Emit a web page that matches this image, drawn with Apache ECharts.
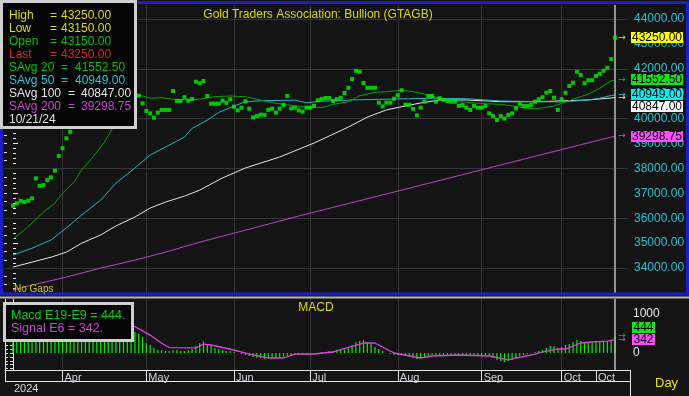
<!DOCTYPE html>
<html>
<head>
<meta charset="utf-8">
<script src="https://cdn.jsdelivr.net/npm/echarts@6.0.0/dist/echarts.min.js"></script>
<style>
html,body{margin:0;padding:0;background:#151515;overflow:hidden;}
#chart{width:689px;height:396px;}
</style>
</head>
<body>
<div id="chart"></div>
<script>
// ================= DATA =================
const chartTitle = 'Gold Traders Association: Bullion (GTAGB)';
const firstDay = '2024-03-13';
const lastDay = '2024-10-21';

// daily closes (one per weekday, Mar 13 .. Oct 21, 2024)
const prices = [
  36500,36600,36700,36650,36700,36800,37600,37300,37330,37530,
  37640,37910,38500,38810,39210,39470,39900,40300,40800,41000,
  41300,41100,41500,41700,41400,41200,41600,41800,41500,41300,
  41500,41400,41100,40920,40610,40310,40210,40040,40240,40350,
  40350,40350,41110,40710,40710,40860,40720,40790,41480,41420,
  41510,40910,40600,40600,40600,40720,40640,40780,40480,40330,
  40440,40700,40400,40050,40100,40160,40150,40350,40400,40240,
  40400,40550,40910,40410,40440,40330,40280,40440,40440,40510,
  40740,40790,40830,40830,40710,40780,40840,41030,41240,41590,
  41920,41880,41430,41240,41240,41240,40640,40490,40640,40640,
  40800,40940,41140,40560,40560,40390,40130,40440,40680,40910,
  40910,40680,40820,40750,40700,40680,40680,40510,40550,40440,
  40350,40510,40440,40440,40510,40210,40100,39940,40100,40000,
  40150,40210,40410,40610,40510,40510,40550,40680,40780,40860,
  41040,41110,40840,40350,40780,41040,41310,41440,41880,41750,
  41420,41540,41540,41710,41800,41920,42040,42390,43250
];

// moving averages: [day index, value]
const sma20Knots = [[0,35170],[3,35530],[5,35810],[8,36250],[11,36610],[13,37010],[16,37450],[18,37940],[21,38460],[24,39060],[26,39580],[29,40300],[33,40950],[36,40820],[39,40840],[42,40780],[46,40750],[49,40780],[53,40880],[57,40910],[61,40880],[64,40780],[68,40640],[72,40550],[76,40480],[81,40440],[84,40570],[88,40680],[91,40920],[95,41060],[98,41080],[102,41140],[105,41080],[109,40950],[113,40780],[117,40680],[123,40610],[128,40570],[131,40510],[135,40410],[138,40410],[142,40510],[144,40610],[147,40780],[151,40980],[154,41220],[157,41520],[158,41552.5]];
const sma50Knots = [[0,34520],[5,34800],[10,35130],[14,35610],[18,36130],[23,36730],[27,37410],[32,38020],[36,38540],[40,38860],[45,39260],[47,39610],[51,39940],[54,40250],[58,40510],[61,40670],[65,40720],[74,40740],[77,40640],[81,40700],[89,40750],[98,40780],[110,40820],[119,40800],[128,40710],[138,40680],[144,40670],[151,40750],[154,40820],[157,40930],[158,40949]];
const sma100Knots = [[0,34040],[5,34240],[10,34440],[14,34640],[18,35000],[23,35330],[27,35690],[32,36050],[36,36410],[40,36650],[45,36890],[49,37130],[55,37620],[61,38020],[70,38460],[79,39020],[88,39660],[93,40060],[98,40350],[103,40510],[107,40630],[112,40750],[119,40750],[128,40680],[138,40680],[145,40720],[151,40750],[154,40790],[157,40830],[158,40847]];
const sma200Knots = [[0,33120],[5,33320],[14,33640],[23,34000],[32,34320],[40,34640],[49,35040],[75,36090],[102,37130],[128,38140],[158,39298.75]];

// MACD histogram (one per day) and signal line knots
const macdValues = [
  620,640,660,650,660,680,780,760,760,780,
  800,840,920,980,1020,1050,1060,1070,1060,1050,
  1030,1000,980,950,920,880,840,790,740,690,
  640,590,538,486,410,256,205,128,77,77,
  51,51,77,77,51,51,77,102,180,256,
  295,230,180,128,102,77,51,51,26,0,
  -26,-51,-77,-102,-128,-128,-154,-128,-128,-128,
  -128,-102,-77,-77,-51,-51,-51,-51,-26,-26,
  0,26,26,51,51,77,102,128,154,205,
  282,307,333,282,230,154,102,51,0,-26,
  -51,-51,-51,-77,-102,-128,-154,-128,-102,-77,
  -51,-51,-60,-60,-60,-60,-60,-60,-60,-60,
  -60,-60,-60,-60,-60,-77,-128,-179,-205,-230,
  -205,-179,-128,-77,-51,-26,0,26,51,77,
  128,180,180,128,154,205,230,282,333,307,
  282,282,282,282,282,282,307,333,444
];
const signalKnots = [[0,600],[10,720],[18,950],[25,960],[31,730],[36,460],[39,250],[41,140],[48,130],[50,230],[52,205],[58,77],[62,-26],[67,-128],[71,-128],[74,-26],[79,-26],[84,26],[92,256],[95,256],[100,0],[107,-128],[110,-77],[117,-51],[125,-77],[130,-179],[132,-128],[137,-26],[139,26],[143,102],[145,102],[149,256],[152,282],[156,307],[158,342]];

const monthTicks = [['2024-04-01','Apr'],['2024-05-01','May'],['2024-06-03','Jun'],['2024-07-01','Jul'],['2024-08-01','Aug'],['2024-09-02','Sep'],['2024-10-01','Oct'],['2024-10-14','Oct']];
const priceTickLabels = [34000,35000,36000,37000,38000,39000,40000,41000,42000,43000,44000];
const priceGridValues = [34000,36000,38000,40000,42000,44000];
const macdTickLabels = [0,1000];
const macdTickMarks = [-400,-300,-200,-100,0,100,200,300,400,500,600,700,800,900,1000,1100,1200,1300];

const highValue = 43250.00;
const lowValue = 43150.00;
const openValue = 43150.00;
const lastValue = 43250.00;
const sma20Last = 41552.50;
const sma50Last = 40949.00;
const sma100Last = 40847.00;
const sma200Last = 39298.75;
const lastDateLabel = '10/21/24';
const macdLast = 444;
const signalLast = 342;
const yearLabel = '2024';

// ================= CHART =================
function tradingDays(from, to) {
  const out = [];
  const d = new Date(from + 'T00:00:00Z'), end = new Date(to + 'T00:00:00Z');
  while (d <= end) {
    const wd = d.getUTCDay();
    if (wd !== 0 && wd !== 6) out.push(d.toISOString().slice(0, 10));
    d.setUTCDate(d.getUTCDate() + 1);
  }
  return out;
}
const categories = tradingDays(firstDay, lastDay);
const lastIdx = categories.length - 1;
const monthIdx = monthTicks.map(m => categories.indexOf(m[0]));
const gridMonthIdx = monthIdx.slice(0, 7);
const monthLabel = v => { const k = monthIdx.indexOf(v); return k >= 0 ? monthTicks[k][1] : ''; };

const FONT = '"Liberation Sans", Arial, sans-serif';
const BG = '#141414', GRID = '#363636';
const C = {yellow:'#dede00', green:'#00c400', red:'#e02424', cyan:'#22c6d8', white:'#e4e4e4', magenta:'#c848d0'};

const chart = echarts.init(document.getElementById('chart'), null, {renderer: 'canvas'});

const option = {
  backgroundColor: BG,
  animation: false,
  grid: [
    {left: 4, right: 61, top: 5, height: 288},
    {left: 5, right: 59, top: 299, height: 71}
  ],
  xAxis: [
    {gridIndex: 0, type: 'value', min: -2.37, max: 161.41, show: false},
    {gridIndex: 1, type: 'value', min: -2.1, max: 161.94,
      axisLine: {show: true, onZero: false, lineStyle: {color: '#e8e8e8', width: 1}},
      axisTick: {show: true, customValues: monthIdx, length: 11, lineStyle: {color: '#e8e8e8'}},
      axisLabel: {customValues: monthIdx, formatter: monthLabel, align: 'left', margin: 2,
        padding: [0, 0, 0, 2], color: '#cfd3e0', fontSize: 11, fontFamily: FONT},
      splitLine: {show: false}}
  ],
  yAxis: [
    {gridIndex: 0, type: 'value', position: 'right', min: 33000, max: 44562, interval: 1000,
      axisLine: {show: false},
      axisTick: {show: true, length: 5, lineStyle: {color: '#eeeeee'}},
      minorTick: {show: true, splitNumber: 5, length: 3, lineStyle: {color: '#eeeeee'}},
      axisLabel: {color: C.cyan, fontSize: 12, fontFamily: FONT, margin: 6,
        formatter: v => priceTickLabels.includes(v) ? v.toFixed(2) : ''},
      splitLine: {show: false}},
    {gridIndex: 0, type: 'value', position: 'left', min: 33000, max: 44562, interval: 1000,
      axisLine: {show: false},
      axisTick: {show: true, inside: true, length: 3, lineStyle: {color: '#dddddd'}},
      minorTick: {show: true, splitNumber: 3, length: 3, lineStyle: {color: '#dddddd'}},
      axisLabel: {show: false}, splitLine: {show: false}},
    {gridIndex: 1, type: 'value', position: 'right', min: -436, max: 1385,
      axisLine: {show: true, lineStyle: {color: '#e8e8e8'}},
      axisTick: {show: true, inside: true, length: 3, customValues: macdTickMarks, lineStyle: {color: '#dddddd'}},
      axisLabel: {customValues: macdTickLabels, color: '#e8e8e8', fontSize: 12, fontFamily: FONT, margin: 3,
        formatter: v => String(v)},
      splitLine: {show: false}},
    {gridIndex: 1, type: 'value', position: 'left', min: -436, max: 1385,
      axisLine: {show: true, lineStyle: {color: '#e8e8e8'}},
      axisTick: {show: true, inside: true, length: 3, customValues: macdTickMarks, lineStyle: {color: '#dddddd'}},
      axisLabel: {show: false}, splitLine: {show: false}}
  ],
  series: [
    {type: 'line', xAxisIndex: 0, yAxisIndex: 0, data: [], silent: true, z: 1,
      markLine: {silent: true, symbol: 'none', z: 1, animation: false, label: {show: false},
        lineStyle: {color: GRID, width: 1, type: 'solid'}, emphasis: {disabled: true},
        data: [...priceGridValues.map(v => ({yAxis: v})), ...gridMonthIdx.map(i => ({xAxis: i}))]}},
    {name: 'SAvg 200', type: 'line', xAxisIndex: 0, yAxisIndex: 0, data: sma200Knots, showSymbol: false,
      lineStyle: {color: '#c040c8', width: 1}, z: 3, silent: true},
    {name: 'SAvg 100', type: 'line', xAxisIndex: 0, yAxisIndex: 0, data: sma100Knots, showSymbol: false,
      lineStyle: {color: '#e6e6e6', width: 1}, z: 3, silent: true},
    {name: 'SAvg 50', type: 'line', xAxisIndex: 0, yAxisIndex: 0, data: sma50Knots, showSymbol: false,
      lineStyle: {color: '#1fb6c8', width: 1}, z: 3, silent: true},
    {name: 'SAvg 20', type: 'line', xAxisIndex: 0, yAxisIndex: 0, data: sma20Knots, showSymbol: false,
      lineStyle: {color: '#00a400', width: 1}, z: 3, silent: true},
    {name: 'Close', type: 'scatter', xAxisIndex: 0, yAxisIndex: 0, data: prices.map((v, i) => [i, v]),
      symbol: 'rect', symbolSize: [4, 4], itemStyle: {color: '#00f400'}, z: 5, silent: true,
      markLine: {silent: true, symbol: 'none', z: 4, label: {show: false},
        lineStyle: {color: '#bdbdbd', width: 1.5, type: 'solid'}, data: [{xAxis: lastIdx}]}},
    {type: 'line', xAxisIndex: 1, yAxisIndex: 2, data: [], silent: true, z: 1,
      markLine: {silent: true, symbol: 'none', z: 1, label: {show: false},
        lineStyle: {color: GRID, width: 1, type: 'solid'},
        data: gridMonthIdx.map(i => ({xAxis: i}))}},
    {name: 'Macd', type: 'bar', xAxisIndex: 1, yAxisIndex: 2, data: macdValues.map((v, i) => [i, v]),
      barWidth: 1.2, itemStyle: {color: '#00f000'}, z: 3, silent: true},
    {name: 'Signal', type: 'line', xAxisIndex: 1, yAxisIndex: 2, data: signalKnots, showSymbol: false,
      lineStyle: {color: '#e040e0', width: 1.3}, z: 4, silent: true,
      markLine: {silent: true, symbol: 'none', z: 4, label: {show: false},
        lineStyle: {color: '#bdbdbd', width: 1.5, type: 'solid'}, data: [{xAxis: lastIdx}]}}
  ]
};
chart.setOption(option);

// ================= DECORATION / TEXT =================
const fmt = v => v.toFixed(2);
const els = [];
function txt(x, y, s, color, size, extra) {
  els.push(Object.assign({type: 'text', x: x, y: y, z: 100,
    style: {text: s, fill: color, font: size + 'px ' + FONT, verticalAlign: 'middle', align: 'left'}}, extra || {}));
}
function line(x1, y1, x2, y2, color, w, z) {
  els.push({type: 'line', z: z || 90, shape: {x1: x1, y1: y1, x2: x2, y2: y2}, style: {stroke: color, lineWidth: w}});
}
function rect(x, y, w, h, fill, stroke, lw, z) {
  els.push({type: 'rect', z: z || 95, shape: {x: x, y: y, width: w, height: h},
    style: {fill: fill, stroke: stroke || null, lineWidth: lw || 0}});
}

// frames and separators
rect(1.5, 2.5, 686, 291.5, 'none', '#1c1cc8', 3, 90);
line(0, 297.5, 689, 297.5, '#b4b4b4', 2);
line(5, 381.5, 630, 381.5, '#e8e8e8', 1);
line(630.5, 370, 630.5, 396, '#e8e8e8', 1);
line(5.5, 370, 5.5, 382, '#e8e8e8', 1);

// titles
els.push({type: 'text', x: 318, y: 14.5, z: 100, style: {text: chartTitle, fill: C.yellow,
  font: '12px ' + FONT, align: 'center', verticalAlign: 'middle'}});
els.push({type: 'text', x: 316, y: 308, z: 100, style: {text: 'MACD', fill: C.yellow,
  font: '12px ' + FONT, align: 'center', verticalAlign: 'middle'}});
txt(14, 289, 'No Gaps', '#cccc00', 10);
txt(14, 388.5, yearLabel, '#d8d8e0', 11);
txt(655, 383, 'Day', '#e6e600', 13);

// price legend box
rect(1.5, 1.5, 134, 126, '#050505', '#cfcfcf', 3, 98);
const rowY = k => 16 + 12.9 * k;
[['High', highValue, C.yellow], ['Low', lowValue, C.yellow], ['Open', openValue, C.green], ['Last', lastValue, C.red]]
  .forEach((r, k) => { txt(9, rowY(k), r[0], r[2], 12); txt(50, rowY(k), '=', r[2], 12); txt(61, rowY(k), fmt(r[1]), r[2], 12); });
[['20', sma20Last, C.green, 61, 75], ['50', sma50Last, C.cyan, 61, 75], ['100', sma100Last, C.white, 68, 81], ['200', sma200Last, C.magenta, 68, 81]]
  .forEach((r, j) => { const k = j + 4; txt(9, rowY(k), 'SAvg', r[2], 12); txt(41, rowY(k), r[0], r[2], 12);
    txt(r[3], rowY(k), '=', r[2], 12); txt(r[4], rowY(k), fmt(r[1]), r[2], 12); });
txt(9, rowY(8), lastDateLabel, C.white, 12);

// MACD legend box
rect(4.5, 303.5, 128, 37, '#050505', '#cfcfcf', 3, 98);
txt(11, 316, 'Macd E19-E9 = ' + macdLast + '.', '#00d400', 12.5);
txt(11, 328.5, 'Signal E6 = ' + signalLast + '.', C.magenta, 12.5);

// value tags on the right axis
function tags(list, yAxisIndex, x, w, h, mode) {
  const items = list.map(t => Object.assign({y0: chart.convertToPixel({yAxisIndex: yAxisIndex}, t.v)}, t));
  items.sort((a, b) => a.y0 - b.y0);
  items.forEach(t => t.y = t.y0);
  if (mode === 'down') {
    for (let i = 1; i < items.length; i++) if (items[i].y < items[i - 1].y + h + 1) items[i].y = items[i - 1].y + h + 1;
  } else {
    for (let i = items.length - 2; i >= 0; i--) if (items[i].y > items[i + 1].y - h - 1) items[i].y = items[i + 1].y - h - 1;
  }
  items.forEach(t => {
    rect(x, Math.round(t.y - h / 2), w, h, t.bg, null, 0, 99);
    els.push({type: 'text', x: x + w / 2, y: Math.round(t.y - h / 2) + h / 2 + 0.5, z: 100,
      style: {text: t.label, fill: '#000000', font: '12px ' + FONT, align: 'center', verticalAlign: 'middle'}});
    els.push({type: 'text', x: 622, y: t.y0, z: 100,
      style: {text: '→', fill: t.arrow, font: '9px "DejaVu Sans", sans-serif', align: 'center', verticalAlign: 'middle'}});
  });
}
tags([
  {v: lastValue, label: fmt(lastValue), bg: '#ffff00', arrow: '#e6e600'},
  {v: sma20Last, label: fmt(sma20Last), bg: '#12e612', arrow: '#00c000'},
  {v: sma50Last, label: fmt(sma50Last), bg: '#00f4f4', arrow: '#20d0e0'},
  {v: sma100Last, label: fmt(sma100Last), bg: '#ffffff', arrow: '#e8e8e8'},
  {v: sma200Last, label: fmt(sma200Last), bg: '#ff4cff', arrow: '#e040e0'}
], 0, 631, 52, 11, 'down');
tags([
  {v: macdLast, label: String(macdLast), bg: '#12e612', arrow: '#00d000'},
  {v: signalLast, label: String(signalLast), bg: '#ff4cff', arrow: '#e040e0'}
], 2, 632, 23, 11, 'up');

chart.setOption({graphic: {elements: els}});
</script>
</body>
</html>
